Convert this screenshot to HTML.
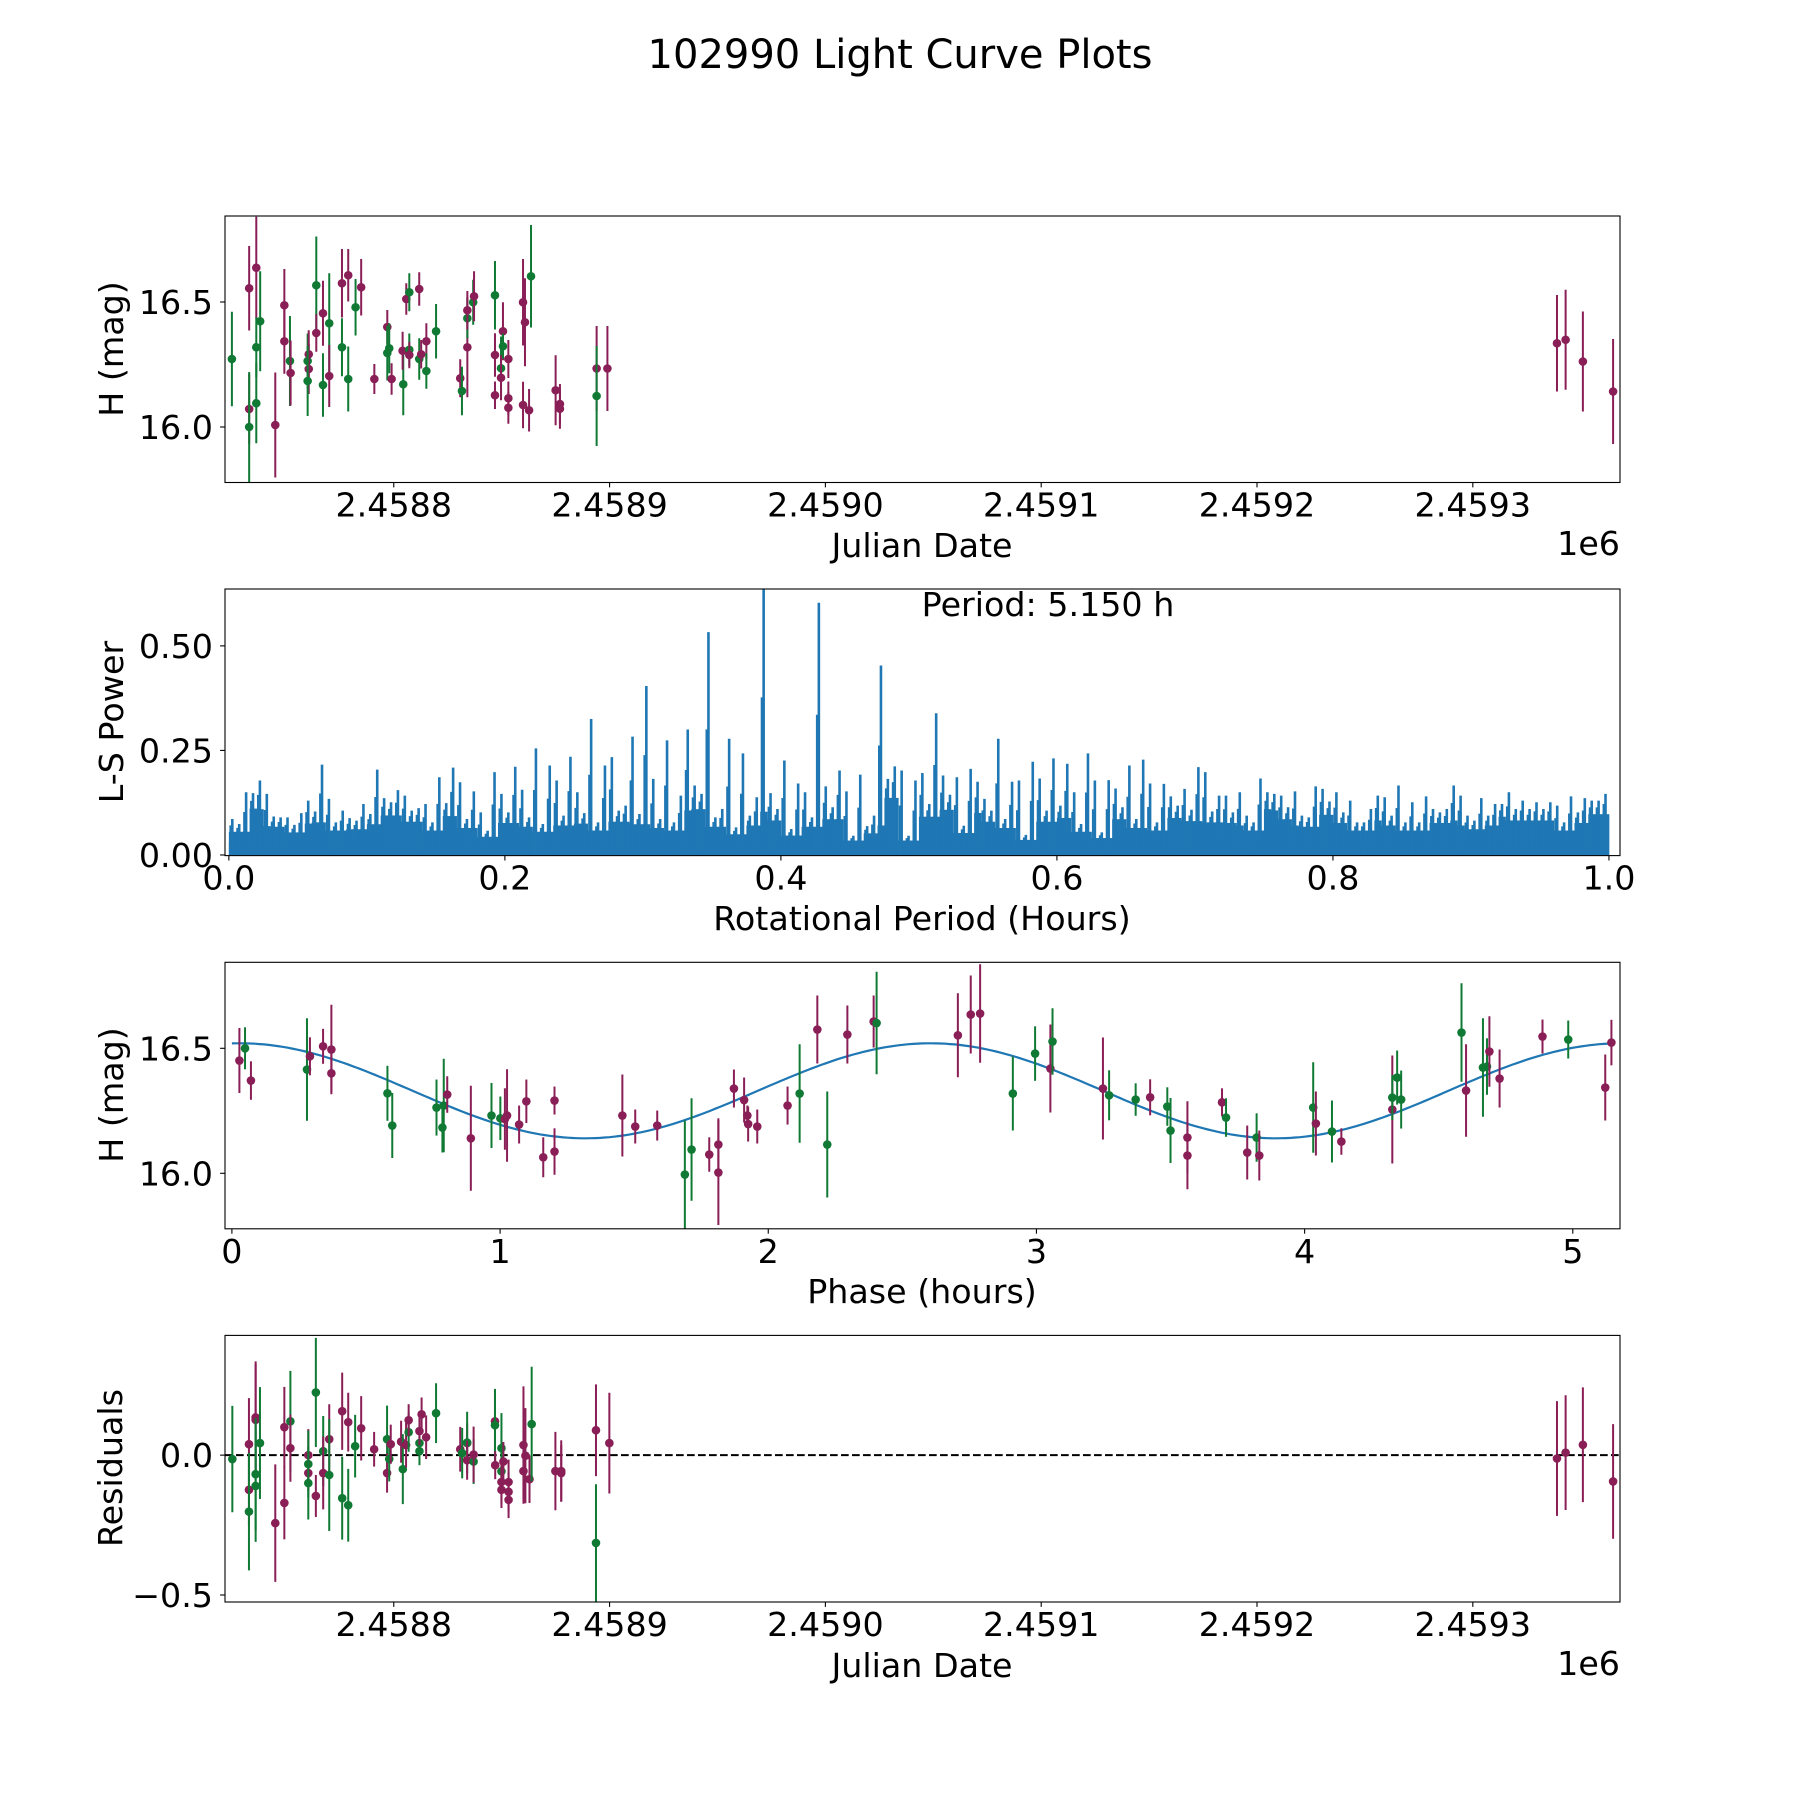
<!DOCTYPE html>
<html><head><meta charset="utf-8"><style>
html,body{margin:0;padding:0;background:#fff}
svg{display:block;font-family:"DejaVu Sans","Liberation Sans",sans-serif}
</style></head><body>
<svg id="fig" xmlns="http://www.w3.org/2000/svg" width="1800" height="1800" viewBox="0 0 1800 1800">
<rect x="0" y="0" width="1800" height="1800" fill="#fff"/>
<text x="900" y="68" font-size="40" text-anchor="middle" fill="#000">102990 Light Curve Plots</text>
</svg>
<script>
// ---------- Panel 1: light curve ----------
const lcJd=[2458725.0,2458733.0,2458733.0,2458733.0,2458736.3,2458736.3,2458736.3,2458738.1,2458745.1,2458749.3,
2458749.3,2458751.9,2458752.2,2458760.1,2458760.6,2458760.6,2458760.1,2458764.1,2458764.1,2458767.2,
2458767.2,2458770.1,2458770.1,2458776.0,2458776.0,2458778.9,2458778.9,2458782.3,2458784.9,2458791.0,
2458797.0,2458797.0,2458797.9,2458799.0,2458804.4,2458804.1,2458805.8,2458807.2,2458807.2,2458807.2,
2458811.8,2458811.8,2458812.7,2458815.1,2458815.1,2458819.6,2458830.8,2458831.6,2458834.1,2458834.1,
2458834.1,2458836.8,2458837.2,2458846.9,2458846.9,2458846.9,2458849.7,2458849.7,2458850.6,2458850.6,
2458853.1,2458853.1,2458853.1,2458859.9,2458860.8,2458859.9,2458862.7,2458863.6,2458875.0,2458877.0,
2458877.0,2458894.0,2458899.0,2458894.0,2459339.0,2459343.0,2459351.0,2459365.0];
const lcMag=[16.272,16.555,16.072,16.0,16.637,16.319,16.095,16.423,16.008,16.487,
16.343,16.264,16.216,16.264,16.291,16.232,16.184,16.567,16.376,16.455,
16.168,16.415,16.204,16.575,16.319,16.607,16.192,16.479,16.559,16.192,
16.4,16.296,16.315,16.192,16.171,16.305,16.512,16.539,16.309,16.288,
16.552,16.272,16.291,16.343,16.224,16.383,16.195,16.144,16.319,16.435,
16.467,16.499,16.523,16.527,16.288,16.127,16.235,16.197,16.383,16.323,
16.272,16.115,16.077,16.499,16.419,16.088,16.067,16.603,16.147,16.092,
16.073,16.234,16.234,16.124,16.335,16.349,16.262,16.142];
const lcErr=[.189,.169,.14,.22,.204,.12,.16,.2,.21,.145,
.13,.18,.13,.11,.096,.1,.14,.195,.075,.13,
.127,.2,.124,.137,.116,.105,.13,.113,.113,.06,
.068,.11,.1,.063,.124,.076,.063,.076,.065,.053,
.067,.083,.057,.072,.071,.109,.076,.097,.2,.08,
.077,.09,.1,.137,.087,.055,.127,.09,.116,.05,
.076,.067,.064,.173,.176,.093,.085,.205,.14,.08,
.08,.17,.17,.2,.193,.2,.2,.21];
const lcBand=["G","M","M","G","M","G","G","G","M","M",
"M","G","M","G","M","M","G","G","M","M",
"G","G","M","M","G","M","G","G","M","M",
"M","G","G","M","G","M","M","G","G","M",
"M","G","M","M","G","G","M","G","M","G",
"M","G","M","G","M","M","G","M","M","G",
"M","M","M","M","M","M","M","G","M","M",
"M","M","M","G","M","M","M","M"];
const jdTicks=[2458800,2458900,2459000,2459100,2459200,2459300];
const jdTickLabels=["2.4588","2.4589","2.4590","2.4591","2.4592","2.4593"];
const magTicks=[16.0,16.5];
const magTickLabels=["16.0","16.5"];

// ---------- Panel 2: periodogram (max power per 0.005 h bin) ----------
const lsBinWidth=0.005;
const lsPower=[.086,.074,.15,.148,.178,.146,.092,.09,.09,.072,
.1,.13,.104,.216,.134,.078,.106,.088,.082,.122,
.098,.204,.136,.126,.155,.142,.106,.112,.122,.078,
.186,.124,.209,.174,.086,.152,.102,.058,.198,.146,
.102,.211,.156,.09,.255,.074,.214,.178,.094,.235,
.15,.1,.325,.078,.214,.234,.106,.118,.283,.098,
.404,.182,.086,.274,.078,.142,.3,
.166,.146,.533,.09,.11,.278,.066,.243,.094,.138,
.65,.148,.11,.226,.062,.171,.15,.09,.603,.164,
.114,.202,.152,.046,.192,.069,.094,.453,.182,.212,
.202,.046,.178,.196,.122,.339,.19,.144,.186,.07,
.206,.175,.134,.106,.278,.086,.175,.178,.048,.223,
.183,.106,.231,.118,.218,.15,.074,.243,.178,.054,
.179,.159,.114,.214,.086,.228,.171,
.078,.17,.14,.118,.158,.108,.21,.198,.104,.142,
.142,.102,.15,.094,.078,.183,.15,.146,.142,.114,
.152,.094,.09,.164,.158,.128,.15,.102,.13,.078,
.078,.11,.142,.138,.094,.166,.078,.126,.078,.14,
.11,.102,.11,.166,.142,.094,.082,.136,.094,.122,
.122,.15,.11,.13,.11,.126,.11,.126,.118,.078,
.14,.102,.136,.13,.13,.146];
const lsFloor=0.03;
const perTicks=[0,0.2,0.4,0.6,0.8,1.0];
const perTickLabels=["0.0","0.2","0.4","0.6","0.8","1.0"];
const powTicks=[0,0.25,0.5];
const powTickLabels=["0.00","0.25","0.50"];
const bestPeriodLabel="Period: 5.150 h";

// ---------- Panel 3: phased curve ----------
const phHours=[.028,.049,.071,.280,.291,.340,.371,.371,.580,.598,
.763,.785,.790,.803,.891,.968,1.001,1.018,1.026,1.071,
1.098,1.161,1.203,1.203,1.456,1.504,1.586,1.689,1.714,1.780,
1.814,1.814,1.872,1.910,1.922,1.925,1.959,2.072,2.117,2.183,
2.220,2.295,2.393,2.404,2.707,2.755,2.790,2.912,2.995,3.052,
3.060,3.248,3.271,3.370,3.424,3.488,3.500,3.563,3.563,3.692,
3.707,3.786,3.821,3.831,4.032,4.042,4.102,4.137,4.327,4.327,
4.345,4.360,4.585,4.602,4.665,4.680,4.689,4.727,4.887,4.983,
5.121,5.144];
const phMag=[16.451,16.5,16.371,16.415,16.468,16.508,16.495,16.4,16.32,16.191,
16.263,16.183,16.271,16.315,16.14,16.231,16.22,16.217,16.231,16.195,
16.288,16.064,16.291,16.087,16.231,16.187,16.191,15.995,16.095,16.075,
16.115,16.003,16.339,16.293,16.231,16.197,16.187,16.271,16.319,16.575,
16.115,16.555,16.607,16.601,16.552,16.635,16.639,16.319,16.479,16.419,
16.527,16.339,16.312,16.295,16.304,16.267,16.171,16.143,16.071,16.284,
16.223,16.083,16.143,16.071,16.263,16.199,16.167,16.127,16.255,16.303,
16.383,16.295,16.563,16.331,16.423,16.427,16.487,16.379,16.547,16.535,
16.343,16.523];
const phErr=[.13,.084,.077,.205,.076,.07,.179,.075,.11,.13,
.112,.1,.187,.073,.21,.13,.087,.123,.185,.076,
.087,.08,.056,.093,.164,.068,.06,.216,.205,.069,
.105,.21,.076,.09,.04,.07,.068,.076,.197,.136,
.212,.116,.104,.205,.168,.156,.197,.148,.109,.176,
.133,.204,.1,.065,.072,.077,.13,.145,.135,.056,
.077,.108,.097,.1,.181,.128,.124,.053,.216,.09,
.108,.116,.197,.185,.197,.113,.141,.116,.068,.076,
.132,.091];
const phBand=["M","G","M","G","M","M","M","M","G","G",
"G","G","G","M","M","G","G","M","M","M",
"M","M","M","M","M","M","M","G","G","M",
"M","M","M","M","M","M","M","M","G","M",
"G","M","M","G","M","M","M","G","G","M",
"G","M","G","G","M","G","G","M","M","M",
"G","M","G","M","G","M","G","M","M","G",
"G","G","G","M","G","G","M","M","M","G",
"M","M"];
// fitted sinusoid: [mean mag, amplitude, period (h), phase of maximum (h), phase range end (h)]
const fitParams=[16.33,0.19,2.575,0.03,5.15];
const phTicks=[0,1,2,3,4,5];
const phTickLabels=["0","1","2","3","4","5"];

// ---------- Panel 4: residuals ----------
const resJd=[2458725.2,2458732.9,2458732.9,2458732.9,2458736,2458736,2458736,2458736,2458738,2458745.1,
2458749.3,2458749.3,2458752.1,2458752.1,2458760.4,2458760.4,2458760.4,2458760.4,2458763.9,2458763.9,
2458767.3,2458767.3,2458770.1,2458770.1,2458776.1,2458776.1,2458778.9,2458778.9,2458782.1,2458784.9,
2458790.9,2458796.9,2458796.9,2458797.9,2458798.6,2458803.4,2458804.2,2458805.7,2458806.9,2458806.9,
2458811.9,2458811.9,2458811.9,2458812.9,2458815,2458819.6,2458830.8,2458831.7,2458834,2458834,
2458834,2458837,2458837,2458846.9,2458846.9,2458847,2458849.9,2458849.9,2458850.8,2458849.9,
2458849.9,2458853.2,2458853.2,2458853.2,2458860.1,2458860.1,2458861,2458862.9,2458863.9,2458874.9,
2458877.6,2458877.6,2458893.7,2458893.7,2458899.9,2459339,2459343,2459351,2459365];
const resVal=[-.014,.039,-.124,-.202,.135,.126,-.068,-.11,.043,-.243,
.1,-.171,.121,.025,0,-.032,-.064,-.1,.224,-.146,
.014,-.064,.057,-.071,.157,-.154,.118,-.179,.032,.096,
.021,.057,-.064,-.014,.039,.048,-.05,.036,.082,.125,
.043,.014,.086,.146,.064,.15,.021,.007,.043,.045,
-.018,-.023,.002,.121,.107,-.036,.025,-.058,-.023,-.096,
-.124,-.096,-.131,-.16,.036,-.057,-.002,-.086,.111,-.057,
-.057,-.064,.089,-.314,.043,-.012,.009,.037,-.094];
const resErr=[.19,.165,.13,.21,.2,.2,.2,.2,.2,.21,
.144,.13,.18,.12,.093,.12,.065,.13,.195,.075,
.126,.13,.125,.2,.138,.148,.105,.13,.112,.115,
.062,.12,.07,.08,.07,.075,.125,.08,.07,.057,
.05,.05,.05,.06,.078,.107,.08,.09,.07,.11,
.07,.08,.1,.1,.13,.05,.125,.1,.07,.08,
.065,.08,.07,.065,.21,.1,.17,.085,.205,.14,
.11,.1,.164,.21,.18,.205,.205,.205,.205];
const resBand=["G","M","M","G","M","M","G","G","G","M",
"M","M","G","M","M","G","M","G","G","M",
"G","M","M","G","M","G","M","G","G","M",
"M","G","M","G","M","M","G","M","G","M",
"G","G","M","M","M","G","M","G","M","G",
"M","G","M","M","G","M","G","G","M","M",
"M","M","M","M","M","M","M","M","G","M",
"M","M","M","G","M","M","M","M","M"];
const resTicks=[0,-0.5];
const resTickLabels=["0.0","\u22120.5"];

// ---------- drawing ----------
const NS="http://www.w3.org/2000/svg";
const svg=document.getElementById("fig");
const COL={M:"#8a1e56",G:"#107a34"};
const L=225,R=1620;
function mk(tag,attrs,parent){const e=document.createElementNS(NS,tag);for(const k in attrs)e.setAttribute(k,attrs[k]);(parent||svg).appendChild(e);return e;}
function lin(d0,d1,p0,p1){return v=>p0+(v-d0)*(p1-p0)/(d1-d0);}

function makeAxes(key,top,bottom,xlim,ylim){
  const g=mk("g",{});
  
  
  const cp=mk("clipPath",{id:"clip-"+key},g);
  mk("rect",{x:L,y:top,width:R-L,height:bottom-top},cp);
  const plot=mk("g",{"clip-path":"url(#clip-"+key+")"},g);
  
  
  return {g,plot,top,bottom,x:lin(xlim[0],xlim[1],L,R),y:lin(ylim[0],ylim[1],bottom,top)};
}
function frame(ax){
  const f=mk("rect",{x:L,y:ax.top,width:R-L,height:ax.bottom-ax.top,fill:"none",stroke:"#000","stroke-width":1.1},ax.g);
  
  
}
function xTicks(ax,vals,labels,name){
  vals.forEach((v,i)=>{
    const px=ax.x(v);
    mk("line",{x1:px,x2:px,y1:ax.bottom,y2:ax.bottom+4.9,stroke:"#000","stroke-width":1.1},ax.g);
    const t=mk("text",{x:px,y:ax.bottom+34,"font-size":33.3,"text-anchor":"middle",fill:"#000"},ax.g);
    
    
    t.textContent=labels[i];
  });
}
function yTicks(ax,vals,labels,name){
  vals.forEach((v,i)=>{
    const py=ax.y(v);
    mk("line",{x1:L-4.9,x2:L,y1:py,y2:py,stroke:"#000","stroke-width":1.1},ax.g);
    const t=mk("text",{x:L-12,y:py+12,"font-size":33.3,"text-anchor":"end",fill:"#000"},ax.g);
    
    
    t.textContent=labels[i];
  });
}
function label(ax,txt,x,y,rot,name,anchor){
  const t=mk("text",{x:x,y:y,"font-size":33.3,"text-anchor":anchor||"middle",fill:"#000"},ax.g);
  if(rot)t.setAttribute("transform","rotate(-90 "+x+" "+y+")");
  
  
  t.textContent=txt;
}
function errPoints(ax,xs,ys,es,bands,name){
  xs.forEach((xv,i)=>{
    const px=ax.x(xv),py=ax.y(ys[i]),c=COL[bands[i]];
    const ln=mk("line",{x1:px,x2:px,y1:ax.y(ys[i]-es[i]),y2:ax.y(ys[i]+es[i]),stroke:c,"stroke-width":2},ax.plot);
    
    
    const pt=mk("circle",{cx:px,cy:py,r:4.3,fill:c},ax.plot);
    
    
  });
}

const jdLim=[2458721.8,2459368.2];
const magLim=[15.778,16.844];

// Panel 1
const a1=makeAxes("light-curve",216,482.5,jdLim,magLim);
errPoints(a1,lcJd,lcMag,lcErr,lcBand,"light-curve");
frame(a1);
xTicks(a1,jdTicks,jdTickLabels,"julian-date");
yTicks(a1,magTicks,magTickLabels,"magnitude");
label(a1,"Julian Date",922,557,false,"x-axis-title");
label(a1,"1e6",R,555,false,"x-axis-offset","end");
label(a1,"H (mag)",123,349,true,"y-axis-title");

// Panel 2
const a2=makeAxes("periodogram",589,855.6,[-0.0028,1.0080],[-0.0015,0.636]);
const base=a2.y(0);
const floorRect=mk("rect",{x:a2.x(0),y:a2.y(lsFloor),width:a2.x(1)-a2.x(0),height:base-a2.y(lsFloor),fill:"#1f77b4"},a2.plot);


lsPower.forEach((p,i)=>{
  const x0=a2.x(i*lsBinWidth),x1=a2.x((i+1)*lsBinWidth);
  const prev=i>0?lsPower[i-1]:p, next=i<lsPower.length-1?lsPower[i+1]:p;
  const shoulder=Math.min(p,prev,next)*0.75;
  const blk=mk("rect",{x:x0,y:a2.y(shoulder),width:(x1-x0)+0.4,height:base-a2.y(shoulder),fill:"#1f77b4"},a2.plot);
  
  
  const xc=(x0+x1)/2;
  const ln=mk("line",{x1:xc,x2:xc,y1:base,y2:a2.y(p),stroke:"#1f77b4","stroke-width":2.6},a2.plot);
  
  
  const ln2=mk("line",{x1:x0+1.5,x2:x0+1.5,y1:base,y2:a2.y((p+shoulder)/2),stroke:"#1f77b4","stroke-width":2},a2.plot);
  
  
});
frame(a2);
xTicks(a2,perTicks,perTickLabels,"period");
yTicks(a2,powTicks,powTickLabels,"power");
label(a2,"Rotational Period (Hours)",922,930,false,"x-axis-title");
label(a2,"L-S Power",123,722,true,"y-axis-title");
label(a2,bestPeriodLabel,1048,616,false,"best-period-annotation");

// Panel 3
const a3=makeAxes("phased-curve",962.3,1228.8,[-0.0257,5.176],magLim);
const fitPts=[];
for(let k=0;k<=300;k++){
  const ph=fitParams[4]*k/300;
  const m=fitParams[0]+fitParams[1]*Math.cos(2*Math.PI*(ph-fitParams[3])/fitParams[2]);
  fitPts.push(a3.x(ph).toFixed(1)+","+a3.y(m).toFixed(1));
}
const fit=mk("polyline",{points:fitPts.join(" "),fill:"none",stroke:"#1f77b4","stroke-width":2.2},a3.plot);


errPoints(a3,phHours,phMag,phErr,phBand,"phased");
frame(a3);
xTicks(a3,phTicks,phTickLabels,"phase");
yTicks(a3,magTicks,magTickLabels,"magnitude");
label(a3,"Phase (hours)",922,1303,false,"x-axis-title");
label(a3,"H (mag)",123,1095,true,"y-axis-title");

// Panel 4
const a4=makeAxes("residuals",1335.4,1602,jdLim,[-0.525,0.428]);
const zl=mk("line",{x1:L,x2:R,y1:a4.y(0),y2:a4.y(0),stroke:"#000","stroke-width":2,"stroke-dasharray":"7.7 3.3"},a4.plot);


errPoints(a4,resJd,resVal,resErr,resBand,"residual");
frame(a4);
xTicks(a4,jdTicks,jdTickLabels,"julian-date");
yTicks(a4,resTicks,resTickLabels,"residual");
label(a4,"Julian Date",922,1677,false,"x-axis-title");
label(a4,"1e6",R,1675,false,"x-axis-offset","end");
label(a4,"Residuals",122,1468,true,"y-axis-title");
</script>
</body></html>
